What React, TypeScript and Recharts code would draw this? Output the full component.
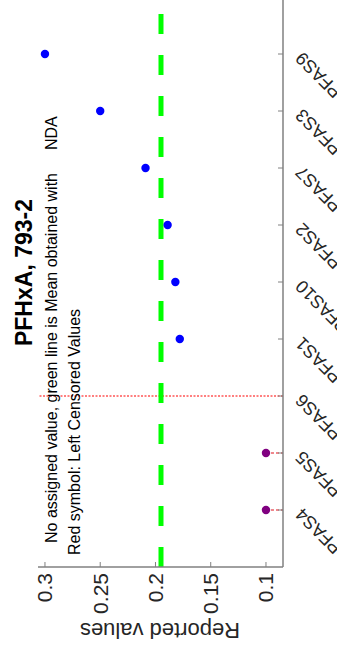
import { ScatterChart, Scatter, XAxis, YAxis, ReferenceLine } from 'recharts'

// lab order along the category axis
const categories = ['PFAS4', 'PFAS5', 'PFAS6', 'PFAS1', 'PFAS10', 'PFAS2', 'PFAS7', 'PFAS3', 'PFAS9']

// reported (blue) values
const reportedLabs = ['PFAS1', 'PFAS10', 'PFAS2', 'PFAS7', 'PFAS3', 'PFAS9']
const reportedValues = [0.178, 0.182, 0.189, 0.209, 0.25, 0.3]

// left censored values (purple dot + red dotted tail)
const censoredLabs = ['PFAS4', 'PFAS5']
const censoredValues = [0.1, 0.1]

const meanValue = 0.195
const dividerLab = 'PFAS6'

const valueTicks = [0.1, 0.15, 0.2, 0.25, 0.3]
const valueDomain: [number, number] = [0.0846, 0.3063]

const FONT = '"Liberation Sans", Arial, Helvetica, sans-serif'
const W = 660
const H = 337

const catPos = (lab: string) => categories.indexOf(lab) + 1
const catTicks = categories.map((_, i) => i + 1)

function CategoryTick({ x, y, payload }: any) {
  const name = categories[payload.value - 1]
  return (
    <g transform={`translate(${x + 3},${y})`}>
      <text transform="rotate(-45)" textAnchor="end" fontSize={18} fill="#262626" fontFamily={FONT}>
        {name}
      </text>
    </g>
  )
}

const dot = (color: string) => (p: any) => <circle cx={p.cx} cy={p.cy} r={4.2} fill={color} />

export default function App() {
  const reported = reportedLabs.map((lab, i) => ({ x: catPos(lab), y: reportedValues[i] }))
  const censored = censoredLabs.map((lab, i) => ({ x: catPos(lab), y: censoredValues[i] }))

  return (
    <div style={{ position: 'fixed', left: 0, top: 0, width: 337, height: 654, overflow: 'hidden', background: '#fff' }}>
      {/* the whole figure is turned a quarter turn counter-clockwise */}
      <div
        style={{
          position: 'absolute', left: 0, top: 0, width: W, height: H,
          transformOrigin: '0 0', transform: 'translate(0px, 654px) rotate(-90deg)',
        }}
      >
        <ScatterChart width={W} height={H} margin={{ top: 38, right: 3, bottom: 0, left: 0 }}>
          <XAxis
            type="number" dataKey="x" domain={[0, 10]} ticks={catTicks} interval={0}
            allowDataOverflow height={54} tick={<CategoryTick />}
            tickSize={-5} tickMargin={25}
            axisLine={{ stroke: '#808080', strokeWidth: 1.5 }} tickLine={{ stroke: '#808080' }}
          />
          <YAxis
            type="number" dataKey="y" domain={valueDomain} ticks={valueTicks} interval={0}
            allowDataOverflow width={87} tickSize={-5} tickMargin={11}
            tick={{ fontSize: 21, fill: '#262626', fontFamily: FONT }}
            axisLine={{ stroke: '#808080', strokeWidth: 1.5 }} tickLine={{ stroke: '#808080' }}
          />
          <ReferenceLine x={catPos(dividerLab)} stroke="#ff0000" strokeWidth={1.2} strokeDasharray="2 1.5" />
          {censored.map((c) => (
            <ReferenceLine
              key={c.x}
              segment={[{ x: c.x, y: c.y }, { x: c.x, y: valueDomain[0] }]}
              stroke="#e0101a" strokeWidth={1.2} strokeDasharray="3 2"
            />
          ))}
          <ReferenceLine y={meanValue} stroke="#00ff00" strokeWidth={5} strokeDasharray="20 21" />
          <Scatter data={reported} isAnimationActive={false} shape={dot('#0000ff')} />
          <Scatter data={censored} isAnimationActive={false} shape={dot('#800080')} />
        </ScatterChart>

        <svg width={W} height={H} style={{ position: 'absolute', left: 0, top: 0, pointerEvents: 'none' }} fontFamily={FONT}>
          <text x={381.5} y={32} textAnchor="middle" fontWeight="bold" fontSize={23} fill="#000">
            PFHxA, 793-2
          </text>
          <text x={111} y={57} fontSize={16} fill="#000">No assigned value, green line is Mean obtained with</text>
          <text x={504} y={57} fontSize={16} fill="#000">NDA</text>
          <text x={99} y={80} fontSize={16} fill="#000">Red symbol: Left Censored Values</text>
          <text transform="translate(31,160) rotate(-90)" textAnchor="middle" fontSize={22} fill="#262626">
            Reported values
          </text>
        </svg>
      </div>
    </div>
  )
}
